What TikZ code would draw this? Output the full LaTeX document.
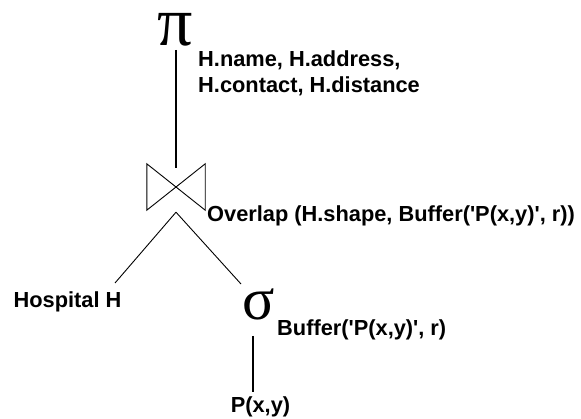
\documentclass[tikz,border=0pt]{standalone}
\usepackage{fontspec}
\setmainfont{Liberation Sans}
\newfontfamily\greekfont{Liberation Serif}
\usetikzlibrary{positioning,calc}

\begin{document}
\begin{tikzpicture}[
      x=1pt, y=-1pt,
      lbl/.style={font=\fontsize{21.8}{26}\selectfont\bfseries, inner sep=0pt, align=left},
      op/.style={inner sep=0pt, font=\greekfont},
      edge/.style={draw, line width=1.1pt}
    ]
    \useasboundingbox (0,0) rectangle (581,419);
    \node[op, font=\fontsize{70}{70}\greekfont, anchor=base, text height=36pt] (proj) at (175,46) {π};
    \node[lbl, anchor=north west] (projattr) at (198,51) {H.name, H.address,\\H.contact, H.distance};
    \node[op, minimum width=58pt, minimum height=46pt] (join) at (176,187) {};
    \draw[line width=0.9pt] (join.center) -- (join.north west) -- (join.south west) -- cycle
                            (join.center) -- (join.north east) -- (join.south east) -- cycle;
    \node[lbl, anchor=base west] (cond) at (207,222) {Overlap (H.shape, Buffer(\textquotesingle P(x,y)\textquotesingle, r))};
    \node[lbl] (hosp) at (67.5,301.5) {Hospital H};
    \node[op, font=\fontsize{60}{60}\greekfont, anchor=base] (sel) at (258.5,320) {σ};
    \node[lbl, anchor=base west] (selcond) at (277,336) {Buffer(\textquotesingle P(x,y)\textquotesingle, r)};
    \node[lbl] (pt) at (260.5,406.5) {P(x,y)};

    \draw[edge] ([xshift=1pt,yshift=-4pt]proj.base) -- ([yshift=-4pt]join.north);
    \draw[edge, line width=0.9pt] ([yshift=-2pt]join.south) -- (115,283) coordinate (hl);
    \draw[edge, line width=0.9pt] ([yshift=-2pt]join.south) -- (241,284) coordinate (sl);
    \draw[edge] ([xshift=-5.5pt,yshift=-16pt]sel.base) -- ([xshift=-7.5pt,yshift=4pt]pt.north);
  \end{tikzpicture}
\end{document}
